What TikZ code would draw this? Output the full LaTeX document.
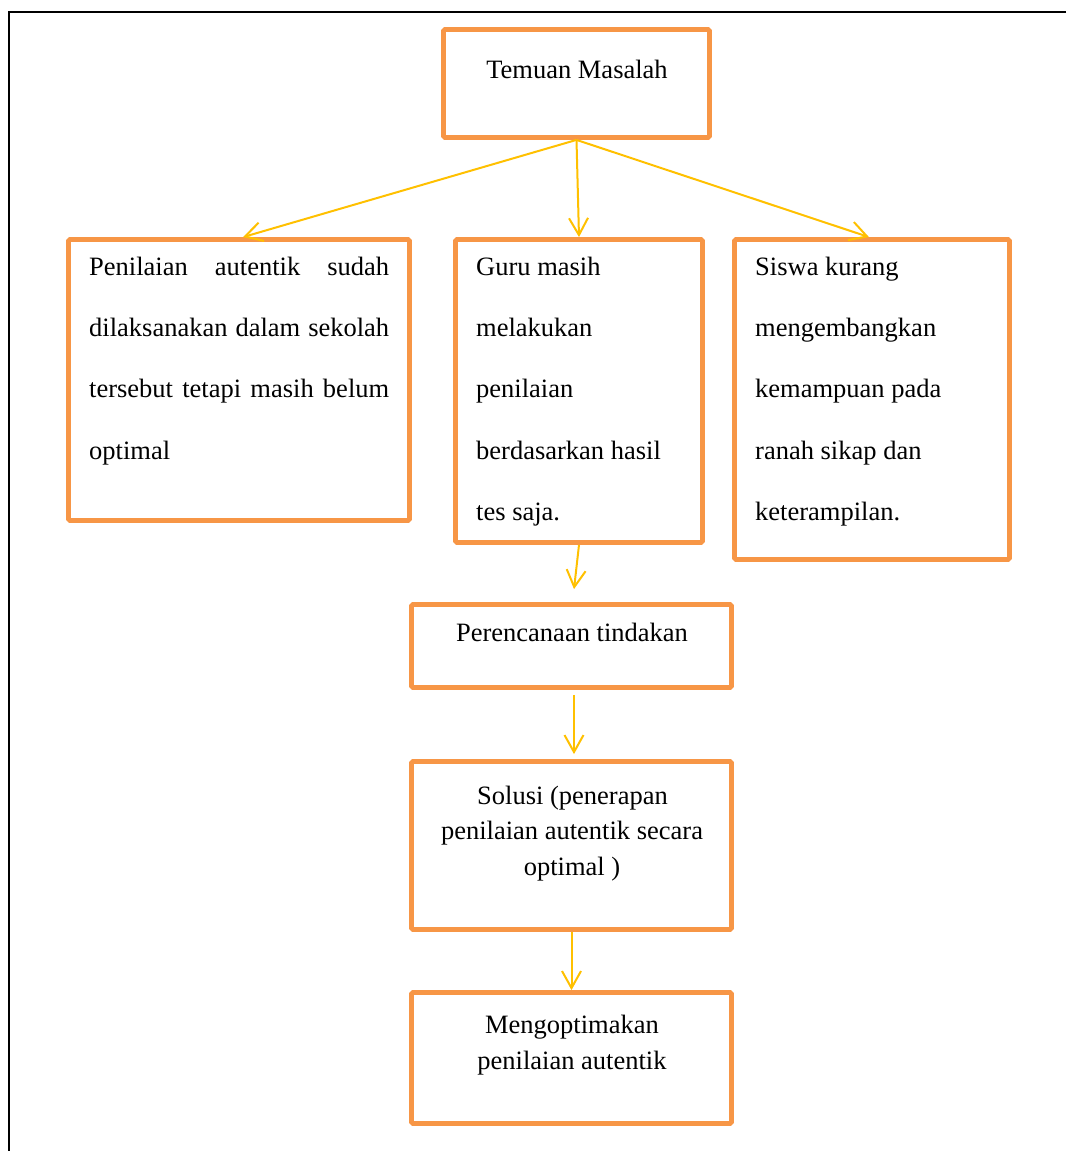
\documentclass[tikz,border=0pt]{standalone}
\usepackage{fontspec}
\setmainfont{Liberation Serif}
\usetikzlibrary{arrows.meta}
\definecolor{boxorange}{HTML}{F79646}
\definecolor{arrowyellow}{HTML}{FFC000}
\begin{document}
\begin{tikzpicture}[x=1pt,y=-1pt,
  box/.style={draw=boxorange,line width=4.8pt,rounded corners=1.5pt,inner sep=0pt},
  txt/.style={font=\fontsize{26.5}{30}\selectfont,inner sep=0pt,anchor=base},
  ltxt/.style={txt,anchor=base west},
  arr/.style={draw=arrowyellow,line width=2pt,-{Straight Barb[length=17pt,width=19pt]}}]
\useasboundingbox (0,0) rectangle (1066,1151);
% outer frame
\draw[line width=1.5pt] (1066,12) -- (9,12) -- (9,1151);
% boxes
\node[box,minimum width=266pt,minimum height=108pt] (temuan) at (576.5,83.5) {};
\node[box,minimum width=341pt,minimum height=281pt] (b1) at (239,380) {};
\node[box,minimum width=247pt,minimum height=303pt] (b2) at (579,391) {};
\node[box,minimum width=275pt,minimum height=320pt] (b3) at (872,399.5) {};
\node[box,minimum width=320pt,minimum height=83pt] (perenc) at (571.5,646) {};
\node[box,minimum width=320pt,minimum height=168pt] (solusi) at (571.5,845.5) {};
\node[box,minimum width=320pt,minimum height=131pt] (mengopt) at (571.5,1058) {};
% texts
\node[txt] (t0) at (577,78) {Temuan Masalah};
\node[ltxt] (t11) at (89,275) {\makebox[300pt][s]{Penilaian autentik sudah}};
\node[ltxt] (t12) at (89,336.5) {\makebox[300pt][s]{dilaksanakan dalam sekolah}};
\node[ltxt] (t13) at (89,397.5) {\makebox[300pt][s]{tersebut tetapi masih belum}};
\node[ltxt] (t14) at (89,459) {optimal};
\node[ltxt] (t21) at (476,275) {Guru masih};
\node[ltxt] (t22) at (476,336.5) {melakukan};
\node[ltxt] (t23) at (476,397.5) {penilaian};
\node[ltxt] (t24) at (476,459) {berdasarkan hasil};
\node[ltxt] (t25) at (476,520) {tes saja.};
\node[ltxt] (t31) at (755,275) {Siswa kurang};
\node[ltxt] (t32) at (755,336.5) {mengembangkan};
\node[ltxt] (t33) at (755,397.5) {kemampuan pada};
\node[ltxt] (t34) at (755,459) {ranah sikap dan};
\node[ltxt] (t35) at (755,520) {keterampilan.};
\node[txt] (t4) at (572,641) {Perencanaan tindakan};
\node[txt] (t51) at (572.5,804) {Solusi (penerapan};
\node[txt] (t52) at (572,839.5) {penilaian autentik secara};
\node[txt] (t53) at (572,875) {optimal )};
\node[txt] (t61) at (572,1033) {Mengoptimakan};
\node[txt] (t62) at (572,1069) {penilaian autentik};
% arrows
\draw[arr] (temuan.south) -- ([xshift=4pt]b1.north);
\draw[arr] (temuan.south) -- (b2.north);
\draw[arr] (temuan.south) -- ([xshift=-3pt]b3.north);
\draw[arr] (b2.south) -- ([xshift=2.5pt,yshift=13pt]perenc.north);
\draw[arr] ([xshift=2.5pt,yshift=-5pt]perenc.south) -- ([xshift=2.5pt,yshift=5pt]solusi.north);
\draw[arr] (solusi.south) -- (mengopt.north);
\end{tikzpicture}
\end{document}
